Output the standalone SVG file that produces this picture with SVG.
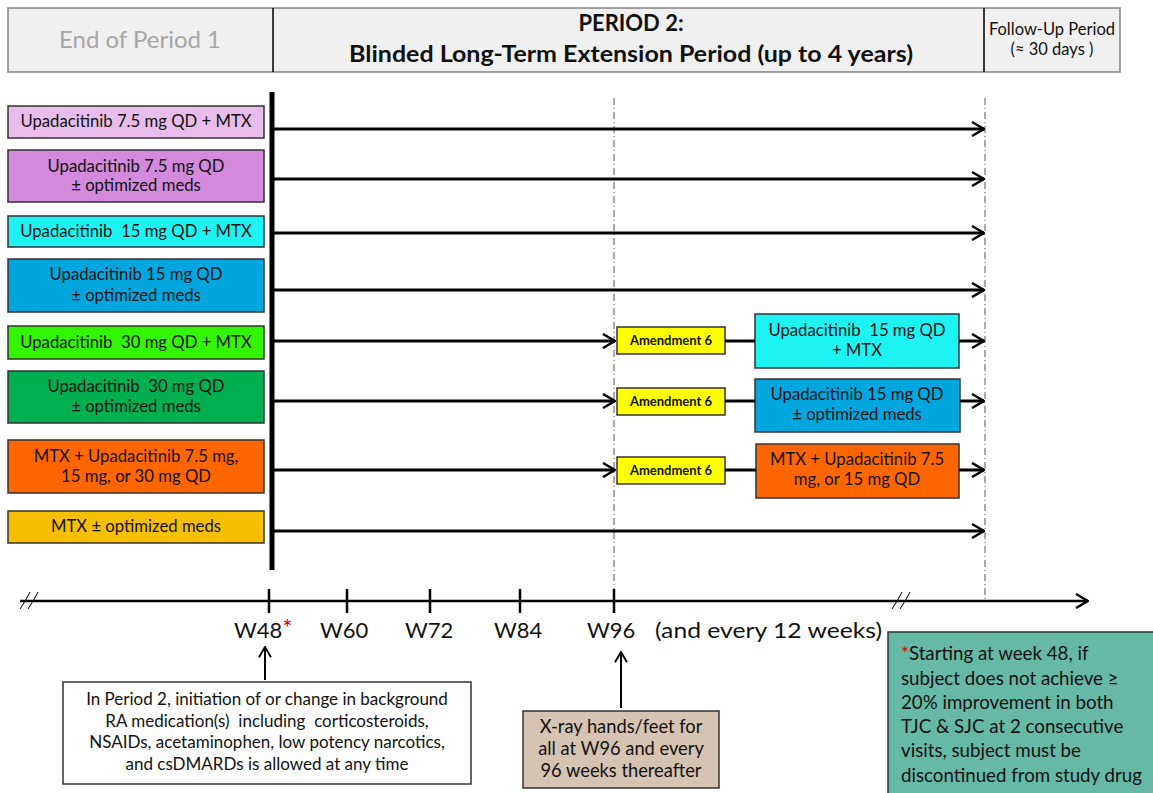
<svg xmlns="http://www.w3.org/2000/svg" width="1153" height="793" viewBox="0 0 1153 793">
<defs>
<style>
text{font-family:Lato,"Open Sans","Liberation Sans",sans-serif;fill:#111;}
.bx{stroke:#333;stroke-width:1.5;}
.lbl{font-size:16.7px;text-anchor:middle;}
.amd{font-size:13px;font-weight:bold;text-anchor:middle;}
.wk{font-size:22px;}
.arr{stroke:#000;stroke-width:3;fill:none;marker-end:url(#ah);}
.ln{stroke:#000;stroke-width:3;fill:none;}
.dash{stroke:#555;stroke-width:1;stroke-dasharray:7 3 1 3;fill:none;}
.nt{font-size:17px;text-anchor:middle;}
</style>
<marker id="ah" viewBox="0 0 14 16" refX="13" refY="8" markerWidth="14" markerHeight="16" markerUnits="userSpaceOnUse" orient="auto">
<path d="M1,1 L13,8 L1,15" fill="none" stroke="#000" stroke-width="2.5"/>
</marker>
<marker id="ah2" viewBox="0 0 14 16" refX="13" refY="8" markerWidth="12" markerHeight="14" markerUnits="userSpaceOnUse" orient="auto">
<path d="M1,1 L13,8 L1,15" fill="none" stroke="#000" stroke-width="2.2"/>
</marker>
</defs>
<rect width="1153" height="793" fill="#fff"/>

<g id="header">
<rect x="8" y="8" width="1112" height="64" fill="#F0F0F0" stroke="#7F7F7F" stroke-width="1.5"/>
<line x1="273" y1="8" x2="273" y2="72" stroke="#000" stroke-width="1.5"/>
<line x1="984" y1="8" x2="984" y2="72" stroke="#000" stroke-width="1.5"/>
<text x="140" y="48" style="font-size:24px;fill:#A6A6A6" text-anchor="middle">End of Period 1</text>
<text x="631" y="31" style="font-size:22px;font-weight:bold" text-anchor="middle">PERIOD 2:</text>
<text x="631" y="62" style="font-size:22.5px;font-weight:bold" text-anchor="middle" textLength="564" lengthAdjust="spacingAndGlyphs">Blinded Long-Term Extension Period (up to 4 years)</text>
<text x="1052" y="35" style="font-size:16.5px" text-anchor="middle">Follow-Up Period</text>
<text x="1052" y="55" style="font-size:16.5px" text-anchor="middle">(≈ 30 days )</text>
</g>

<g id="guides">
<line x1="272" y1="92" x2="272" y2="570" stroke="#000" stroke-width="5"/>
<line class="dash" x1="614" y1="98" x2="614" y2="600"/>
<line class="dash" x1="985" y1="98" x2="985" y2="600"/>
</g>

<g id="arm1"><rect class="bx" x="8" y="106" width="256" height="32" fill="#E8BDEB"/><text class="lbl" x="136" y="127">Upadacitinib 7.5 mg QD + MTX</text></g>
<g id="arm2"><rect class="bx" x="8" y="150" width="256" height="52" fill="#D389DC"/><text class="lbl" x="136" y="172">Upadacitinib 7.5 mg QD</text><text class="lbl" x="136" y="191">± optimized meds</text></g>
<g id="arm3"><rect class="bx" x="8" y="216" width="256" height="31" fill="#1EF3F3"/><text class="lbl" x="136" y="237" xml:space="preserve">Upadacitinib  15 mg QD + MTX</text></g>
<g id="arm4"><rect class="bx" x="8" y="259" width="256" height="53" fill="#00A6DD"/><text class="lbl" x="136" y="280">Upadacitinib 15 mg QD</text><text class="lbl" x="136" y="301">± optimized meds</text></g>
<g id="arm5"><rect class="bx" x="8" y="326" width="256" height="33" fill="#33F500"/><text class="lbl" x="136" y="348" xml:space="preserve">Upadacitinib  30 mg QD + MTX</text></g>
<g id="arm6"><rect class="bx" x="8" y="371" width="256" height="52" fill="#00B050"/><text class="lbl" x="136" y="392" xml:space="preserve">Upadacitinib  30 mg QD</text><text class="lbl" x="136" y="412">± optimized meds</text></g>
<g id="arm7"><rect class="bx" x="8" y="440" width="256" height="53" fill="#FF6600"/><text class="lbl" x="136" y="462">MTX + Upadacitinib 7.5 mg,</text><text class="lbl" x="136" y="482">15 mg, or 30 mg QD</text></g>
<g id="arm8"><rect class="bx" x="8" y="511" width="256" height="32" fill="#F6C000"/><text class="lbl" x="136" y="532">MTX ± optimized meds</text></g>

<g id="amend5"><rect class="bx" x="617" y="327" width="108" height="27" fill="#FFFF00"/><text class="amd" x="671" y="345">Amendment 6</text></g>
<g id="amend6"><rect class="bx" x="617" y="388" width="108" height="27" fill="#FFFF00"/><text class="amd" x="671" y="406">Amendment 6</text></g>
<g id="amend7"><rect class="bx" x="617" y="457" width="108" height="27" fill="#FFFF00"/><text class="amd" x="671" y="475">Amendment 6</text></g>

<g id="new5"><rect class="bx" x="755" y="314" width="204" height="54" fill="#1EF3F3"/><text class="lbl" x="857" y="336" xml:space="preserve">Upadacitinib  15 mg QD</text><text class="lbl" x="857" y="356">+ MTX</text></g>
<g id="new6"><rect class="bx" x="755" y="379" width="205" height="53" fill="#00A6DD"/><text class="lbl" x="857" y="400">Upadacitinib 15 mg QD</text><text class="lbl" x="857" y="420">± optimized meds</text></g>
<g id="new7"><rect class="bx" x="756" y="444" width="203" height="54" fill="#FF6600"/><text class="lbl" x="857" y="465">MTX + Upadacitinib 7.5</text><text class="lbl" x="857" y="485">mg, or 15 mg QD</text></g>

<g id="connectors">
<line class="arr" x1="274" y1="129" x2="984" y2="129"/>
<line class="arr" x1="274" y1="179" x2="984" y2="179"/>
<line class="arr" x1="274" y1="233" x2="984" y2="233"/>
<line class="arr" x1="274" y1="290" x2="984" y2="290"/>
<line class="arr" x1="274" y1="341" x2="615" y2="341"/>
<line class="arr" x1="274" y1="401" x2="615" y2="401"/>
<line class="arr" x1="274" y1="470" x2="615" y2="470"/>
<line class="ln" x1="725" y1="341" x2="755" y2="341"/>
<line class="ln" x1="725" y1="401" x2="755" y2="401"/>
<line class="ln" x1="725" y1="470" x2="756" y2="470"/>
<line class="arr" x1="959" y1="341" x2="984" y2="341"/>
<line class="arr" x1="960" y1="401" x2="984" y2="401"/>
<line class="arr" x1="959" y1="470" x2="984" y2="470"/>
<line class="arr" x1="274" y1="531" x2="984" y2="531"/>
<line x1="265" y1="680" x2="265" y2="647" stroke="#000" stroke-width="2" marker-end="url(#ah2)"/>
<line x1="621" y1="708" x2="621" y2="652" stroke="#000" stroke-width="2" marker-end="url(#ah2)"/>
</g>

<g id="timeline">
<line x1="20" y1="601" x2="1088" y2="601" stroke="#000" stroke-width="2.5" marker-end="url(#ah)"/>
<path d="M20,609 Q26,600 30,592 M28,609 Q34,600 38,592" stroke="#000" stroke-width="1" fill="none"/>
<path d="M892,609 Q898,600 902,592 M900,609 Q906,600 910,592" stroke="#000" stroke-width="1" fill="none"/>
<g stroke="#000" stroke-width="2.5">
<line x1="269" y1="589" x2="269" y2="613"/>
<line x1="347" y1="589" x2="347" y2="613"/>
<line x1="430" y1="589" x2="430" y2="613"/>
<line x1="520" y1="589" x2="520" y2="613"/>
<line x1="614" y1="589" x2="614" y2="613"/>
</g>
<text class="wk" x="234" y="638">W48<tspan style="fill:#E00000;font-size:24px" dy="-2">*</tspan></text>
<text class="wk" x="320" y="638">W60</text>
<text class="wk" x="405" y="638">W72</text>
<text class="wk" x="494" y="638">W84</text>
<text class="wk" x="587" y="638">W96</text>
<text class="wk" x="655" y="638" textLength="227" lengthAdjust="spacingAndGlyphs">(and every 12 weeks)</text>
</g>

<g id="note-meds">
<rect x="63" y="682" width="408" height="102" fill="#fff" stroke="#333" stroke-width="1.5"/>
<text class="nt" x="267" y="705">In Period 2, initiation of or change in background</text>
<text class="nt" x="267" y="727" xml:space="preserve">RA medication(s)  including  corticosteroids,</text>
<text class="nt" x="267" y="748">NSAIDs, acetaminophen, low potency narcotics,</text>
<text class="nt" x="267" y="770">and csDMARDs is allowed at any time</text>
</g>

<g id="note-xray">
<rect x="523" y="711" width="196" height="77" fill="#D7C3B1" stroke="#333" stroke-width="1.5"/>
<text class="lbl" x="621" y="733" style="font-size:18.3px">X-ray hands/feet for</text>
<text class="lbl" x="621" y="755" style="font-size:18.3px">all at W96 and every</text>
<text class="lbl" x="621" y="777" style="font-size:18.3px">96 weeks thereafter</text>
</g>

<g id="note-criteria">
<rect x="888" y="632" width="270" height="170" fill="#65B9A5" stroke="#333" stroke-width="1.5"/>
<g style="font-size:18.7px">
<text x="901" y="660"><tspan style="fill:#E00000">*</tspan>Starting at week 48, if</text>
<text x="901" y="685">subject does not achieve ≥</text>
<text x="901" y="709">20% improvement in both</text>
<text x="901" y="733">TJC &amp; SJC at 2 consecutive</text>
<text x="901" y="757">visits, subject must be</text>
<text x="901" y="782">discontinued from study drug</text>
</g>
</g>
</svg>
